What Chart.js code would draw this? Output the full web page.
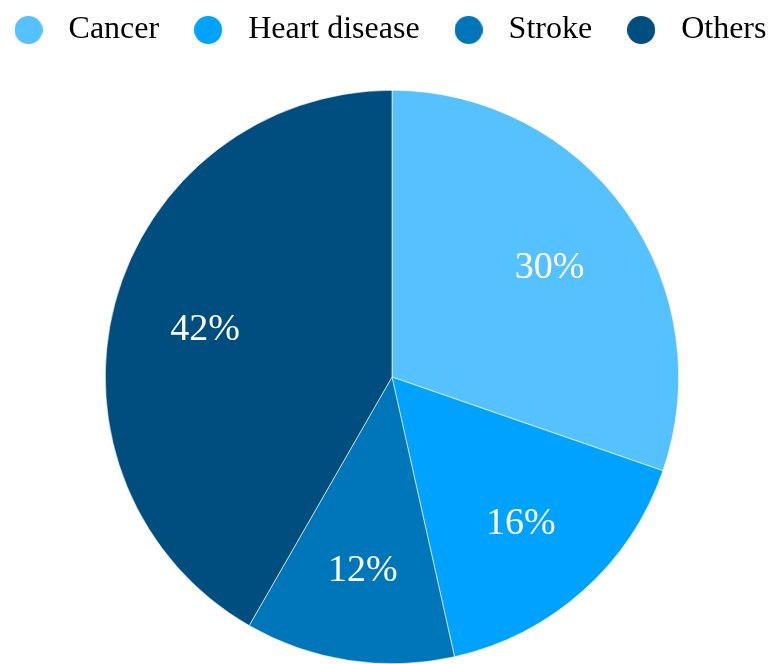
<!DOCTYPE html>
<html>
<head>
<meta charset="utf-8">
<script src="https://cdn.jsdelivr.net/npm/chart.js@4/dist/chart.umd.min.js"></script>
<style>
  html, body { margin: 0; padding: 0; background: #fff; overflow: hidden; }
  #wrap { width: 771px; height: 664px; position: relative; }
</style>
</head>
<body>
<div id="wrap"><canvas id="pieChart"></canvas></div>
<script>
// Données (affichées arrondies)
const labels = ['Cancer', 'Heart disease', 'Stroke', 'Others'];
const values = [30.3, 16.2, 11.8, 41.7];
const colors = ['#56C1FF', '#00A2FF', '#0076BA', '#004D80'];

const fontFamily = "'Liberation Serif', 'Times New Roman', serif";

// Pastille ronde pour la légende
function makeDot(color) {
    const c = document.createElement('canvas');
    c.width = 28;
    c.height = 28;
    const g = c.getContext('2d');
    g.fillStyle = color;
    g.beginPath();
    g.arc(14, 14, 14, 0, Math.PI * 2);
    g.fill();
    return c;
}

// Ajuste la légende: une seule ligne, espace dessous, léger décalage
const legendTweak = {
    id: 'legendTweak',
    beforeInit(chart) {
        const legend = chart.legend;
        const origFit = legend.fit;
        legend.fit = function () {
            const mw = this.maxWidth;
            this.maxWidth = 5000;
            origFit.apply(this, arguments);
            this.maxWidth = mw;
            this.width = mw;
            this.height += 34;
        };
        const origDraw = legend.draw;
        legend.draw = function () {
            const right = this.right;
            this.right = right + 200;
            this.ctx.save();
            this.ctx.translate(-106.5, 0);
            origDraw.apply(this, arguments);
            this.ctx.restore();
            this.right = right;
        };
    }
};

// Pourcentages dans les parts
const sliceLabels = {
    id: 'sliceLabels',
    afterDatasetsDraw(chart) {
        const ctx = chart.ctx;
        const meta = chart.getDatasetMeta(0);
        ctx.save();
        ctx.fillStyle = '#fff';
        ctx.font = '38px ' + fontFamily;
        ctx.textAlign = 'center';
        ctx.textBaseline = 'middle';
        meta.data.forEach((arc, i) => {
            const p = arc.getProps(['x', 'y', 'startAngle', 'endAngle', 'outerRadius']);
            const mid = (p.startAngle + p.endAngle) / 2;
            const r = p.outerRadius * 0.675;
            ctx.fillText(Math.round(values[i]) + '%', p.x + Math.cos(mid) * r, p.y + Math.sin(mid) * r + 3);
        });
        ctx.restore();
    }
};

const ctx = document.getElementById('pieChart').getContext('2d');
new Chart(ctx, {
    type: 'pie',
    data: {
        labels: labels,
        datasets: [{
            data: values,
            backgroundColor: colors,
            borderColor: '#ffffff',
            borderWidth: 0.6
        }]
    },
    options: {
        responsive: true,
        maintainAspectRatio: false,
        animation: false,
        layout: {
            padding: { top: -11, left: 13, right: 0, bottom: -4 }
        },
        plugins: {
            tooltip: { enabled: false },
            legend: {
                position: 'top',
                labels: {
                    usePointStyle: true,
                    pointStyleWidth: 48,
                    padding: 25,
                    color: '#000',
                    font: { family: fontFamily, size: 32 },
                    generateLabels(chart) {
                        const items = Chart.overrides.pie.plugins.legend.labels.generateLabels(chart);
                        items.forEach((item, i) => { item.pointStyle = makeDot(colors[i]); });
                        return items;
                    }
                }
            }
        }
    },
    plugins: [legendTweak, sliceLabels]
});
</script>
</body>
</html>
